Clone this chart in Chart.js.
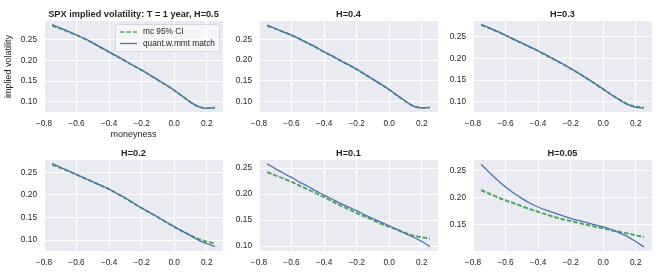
<!DOCTYPE html>
<html><head><meta charset="utf-8">
<script src="https://cdn.jsdelivr.net/npm/chart.js@4.4.1/dist/chart.umd.min.js"></script>
<style>
html,body{margin:0;padding:0;background:#fff;width:664px;height:277px;overflow:hidden;position:relative}
canvas{position:absolute}
</style></head><body>
<canvas id="c0"></canvas><canvas id="c1"></canvas><canvas id="c2"></canvas>
<canvas id="c3"></canvas><canvas id="c4"></canvas><canvas id="c5"></canvas>
<script>
const moneyness = [-0.75,-0.70,-0.65,-0.60,-0.55,-0.50,-0.45,-0.40,-0.35,-0.30,-0.25,-0.20,-0.15,-0.10,-0.05,0.00,0.05,0.10,0.15,0.20,0.25];

const titles = ['SPX implied volatility: T = 1 year, H=0.5','H=0.4','H=0.3','H=0.2','H=0.1','H=0.05'];

const h05Match = [0.287,0.279,0.271,0.262,0.253,0.243,0.232,0.221,0.210,0.199,0.188,0.177,0.165,0.153,0.141,0.128,0.114,0.099,0.088,0.084,0.086];
const h05Low   = [0.284,0.277,0.269,0.261,0.252,0.242,0.231,0.220,0.209,0.198,0.187,0.176,0.164,0.152,0.140,0.127,0.113,0.099,0.088,0.084,0.085];
const h05High  = [0.285,0.278,0.270,0.262,0.253,0.243,0.232,0.221,0.210,0.199,0.188,0.177,0.165,0.153,0.141,0.128,0.114,0.099,0.088,0.084,0.086];

const h04Match = [0.284,0.276,0.268,0.260,0.251,0.241,0.231,0.220,0.210,0.199,0.189,0.178,0.166,0.154,0.142,0.129,0.115,0.101,0.089,0.085,0.086];
const h04Low   = [0.282,0.275,0.267,0.259,0.250,0.240,0.230,0.219,0.209,0.198,0.188,0.177,0.165,0.153,0.141,0.128,0.114,0.100,0.089,0.085,0.085];
const h04High  = [0.283,0.276,0.268,0.260,0.251,0.241,0.231,0.220,0.210,0.199,0.189,0.178,0.166,0.154,0.142,0.129,0.115,0.101,0.089,0.085,0.086];

const h03Match = [0.279,0.271,0.263,0.254,0.245,0.236,0.227,0.218,0.208,0.198,0.188,0.177,0.166,0.154,0.142,0.129,0.116,0.104,0.093,0.087,0.085];
const h03Low   = [0.277,0.270,0.262,0.253,0.244,0.235,0.226,0.217,0.207,0.197,0.187,0.176,0.165,0.153,0.141,0.128,0.116,0.104,0.094,0.088,0.086];
const h03High  = [0.278,0.271,0.263,0.254,0.245,0.236,0.227,0.218,0.208,0.198,0.188,0.177,0.166,0.154,0.142,0.129,0.117,0.105,0.095,0.089,0.087];

const h02Match = [0.269,0.261,0.253,0.245,0.237,0.229,0.221,0.213,0.203,0.193,0.182,0.171,0.161,0.151,0.140,0.130,0.120,0.110,0.100,0.092,0.086];
const h02Low   = [0.266,0.259,0.252,0.244,0.236,0.228,0.220,0.212,0.202,0.192,0.181,0.170,0.160,0.150,0.139,0.129,0.119,0.110,0.102,0.096,0.092];
const h02High  = [0.267,0.260,0.253,0.245,0.237,0.229,0.221,0.213,0.203,0.193,0.182,0.171,0.161,0.151,0.140,0.130,0.120,0.111,0.103,0.097,0.093];

const h01Match = [0.258,0.249,0.240,0.232,0.223,0.215,0.206,0.198,0.190,0.182,0.175,0.168,0.160,0.153,0.146,0.139,0.132,0.124,0.117,0.109,0.099];
const h01Low   = [0.2415,0.2355,0.2295,0.2230,0.2155,0.2085,0.2010,0.1935,0.1855,0.1775,0.1705,0.1630,0.1565,0.1495,0.1425,0.1365,0.1305,0.1245,0.1195,0.1165,0.1135];
const h01High  = [0.2425,0.2365,0.2305,0.2240,0.2165,0.2095,0.2020,0.1945,0.1865,0.1785,0.1715,0.1640,0.1575,0.1505,0.1435,0.1375,0.1315,0.1255,0.1205,0.1175,0.1145];

const h005Match = [0.261,0.246,0.232,0.219,0.208,0.198,0.189,0.182,0.176,0.171,0.166,0.161,0.157,0.153,0.149,0.145,0.140,0.134,0.127,0.118,0.108];
const h005Low   = [0.2125,0.2060,0.1995,0.1935,0.1885,0.1830,0.1775,0.1725,0.1675,0.1630,0.1590,0.1555,0.1520,0.1485,0.1450,0.1420,0.1385,0.1355,0.1325,0.1290,0.1255];
const h005High  = [0.2140,0.2075,0.2010,0.1950,0.1895,0.1840,0.1785,0.1735,0.1685,0.1640,0.1600,0.1565,0.1530,0.1495,0.1460,0.1430,0.1395,0.1365,0.1335,0.1300,0.1265];

const xTickValues = [-0.8,-0.6,-0.4,-0.2,0.0,0.2];
const yTickValues = [0.10,0.15,0.20,0.25];
const yTickValuesH005 = [0.15,0.20,0.25];
const legendLabels = ['mc 95% CI','quant.w.mmt match'];
const xAxisLabel = 'moneyness';
const yAxisLabel = 'implied volatility';

const matchSeries = [h05Match,h04Match,h03Match,h02Match,h01Match,h005Match];
const lowSeries   = [h05Low,h04Low,h03Low,h02Low,h01Low,h005Low];
const highSeries  = [h05High,h04High,h03High,h02High,h01High,h005High];
const yRanges = [[0.075,0.296],[0.075,0.294],[0.076,0.287],[0.076,0.277],[0.0905,0.2655],[0.1005,0.269]];
const yTickSets = [yTickValues,yTickValues,yTickValues,yTickValues,yTickValues,yTickValuesH005];

const BLUE = '#4C72B0', GREEN = '#55A868', TXT = '#262626';
const FAM = "'Liberation Sans', Arial, sans-serif";
Chart.defaults.font.family = FAM;
Chart.defaults.color = TXT;

const colLeft = [44, 259, 473];
const rowTop = [21, 160];
const PW = 179, PH = 91, YW = 44, TH = 21, PADR = 2;

function fmt(v, d){ const s = Math.abs(v).toFixed(d); return (v < -1e-9 ? '\u2212' : '') + s; }

const bgPlugin = {id:'bgArea', beforeDraw(chart){
  const {ctx, chartArea:a} = chart;
  ctx.save(); ctx.fillStyle = '#EAEAF2'; ctx.fillRect(a.left, a.top, a.right-a.left, a.bottom-a.top); ctx.restore();
}};

const legendPlugin = {id:'boxLegend', afterDatasetsDraw(chart){
  const {ctx, chartArea:a} = chart;
  const w = 104, h = 27;
  const x0 = a.right - 4 - w, y0 = a.top + 3;
  ctx.save();
  ctx.beginPath();
  if (ctx.roundRect) ctx.roundRect(x0+0.5, y0+0.5, w, h, 2); else ctx.rect(x0+0.5, y0+0.5, w, h);
  ctx.fillStyle = 'rgba(255,255,255,0.55)'; ctx.fill();
  ctx.strokeStyle = '#d6d6de'; ctx.lineWidth = 1; ctx.stroke();
  const rows = [y0 + 8, y0 + 19.5];
  ctx.strokeStyle = GREEN; ctx.lineWidth = 1.5; ctx.setLineDash([4.5,2]);
  ctx.beginPath(); ctx.moveTo(x0+5, rows[0]); ctx.lineTo(x0+22, rows[0]); ctx.stroke();
  ctx.setLineDash([]);
  ctx.strokeStyle = BLUE; ctx.lineWidth = 1.3;
  ctx.beginPath(); ctx.moveTo(x0+5, rows[1]); ctx.lineTo(x0+22, rows[1]); ctx.stroke();
  ctx.fillStyle = TXT; ctx.font = '8.3px ' + FAM; ctx.textBaseline = 'middle'; ctx.textAlign = 'left';
  ctx.fillText(legendLabels[0], x0+28, rows[0]);
  ctx.fillText(legendLabels[1], x0+28, rows[1]);
  ctx.restore();
}};

for (let i = 0; i < 6; i++) {
  const r = Math.floor(i/3), c = i % 3;
  const first = i === 0;
  const XH = first ? 32 : 20;
  const cv = document.getElementById('c'+i);
  const W = YW + PW + PADR, H = TH + PH + XH;
  cv.width = W; cv.height = H;
  cv.style.width = W + 'px'; cv.style.height = H + 'px';
  cv.style.left = (colLeft[c] - YW) + 'px';
  cv.style.top = (rowTop[r] - TH) + 'px';
  const yt = yTickSets[i];
  new Chart(cv, {
    type: 'line',
    data: {
      labels: moneyness,
      datasets: [
        {label: legendLabels[1], data: moneyness.map((x,k)=>({x, y: matchSeries[i][k]})), borderColor: BLUE, borderWidth: 1.3, pointRadius: 0, cubicInterpolationMode: 'monotone', fill: false},
        {label: legendLabels[0], data: moneyness.map((x,k)=>({x, y: lowSeries[i][k]})), borderColor: GREEN, borderWidth: 1.5, borderDash: [4.5,2], pointRadius: 0, cubicInterpolationMode: 'monotone', fill: false},
        {label: legendLabels[0] + ' upper', data: moneyness.map((x,k)=>({x, y: highSeries[i][k]})), borderColor: GREEN, borderWidth: 1.5, borderDash: [4.5,2], pointRadius: 0, cubicInterpolationMode: 'monotone', fill: false}
      ]
    },
    options: {
      responsive: false, devicePixelRatio: 1, animation: false,
      layout: {padding: {left: 0, right: PADR, top: 0, bottom: 0}},
      plugins: {
        legend: {display: false}, tooltip: {enabled: false},
        title: {display: true, text: titles[i], fullSize: false, color: TXT,
          font: {family: FAM, size: 9.2, weight: 'bold', lineHeight: '12px'}, padding: {top: 8, bottom: 1}}
      },
      scales: {
        x: {
          type: 'linear', min: -0.8, max: 0.3,
          afterBuildTicks: s => { s.ticks = xTickValues.map(v => ({value: v})); },
          afterFit: s => { s.height = XH; },
          ticks: {callback: v => fmt(v,1), font: {size: 8.3}, color: TXT, padding: 7, maxRotation: 0, autoSkip: false},
          grid: {color: '#ffffff', lineWidth: 1, drawTicks: false},
          border: {display: false},
          title: {display: first, text: xAxisLabel, color: TXT, font: {size: 9, lineHeight: '10px'}, padding: {top: 0, bottom: 4}}
        },
        y: {
          type: 'linear', min: yRanges[i][0], max: yRanges[i][1],
          afterBuildTicks: s => { s.ticks = yt.map(v => ({value: v})); },
          afterFit: s => { s.width = YW; },
          ticks: {callback: v => fmt(v,2), font: {size: 8.3}, color: TXT, padding: 7, autoSkip: false},
          grid: {color: '#ffffff', lineWidth: 1, drawTicks: false},
          border: {display: false},
          title: {display: first, text: yAxisLabel, color: TXT, font: {size: 9, lineHeight: '10px'}, padding: {top: 4, bottom: 0}}
        }
      }
    },
    plugins: first ? [bgPlugin, legendPlugin] : [bgPlugin]
  });
}
</script>
</body></html>
